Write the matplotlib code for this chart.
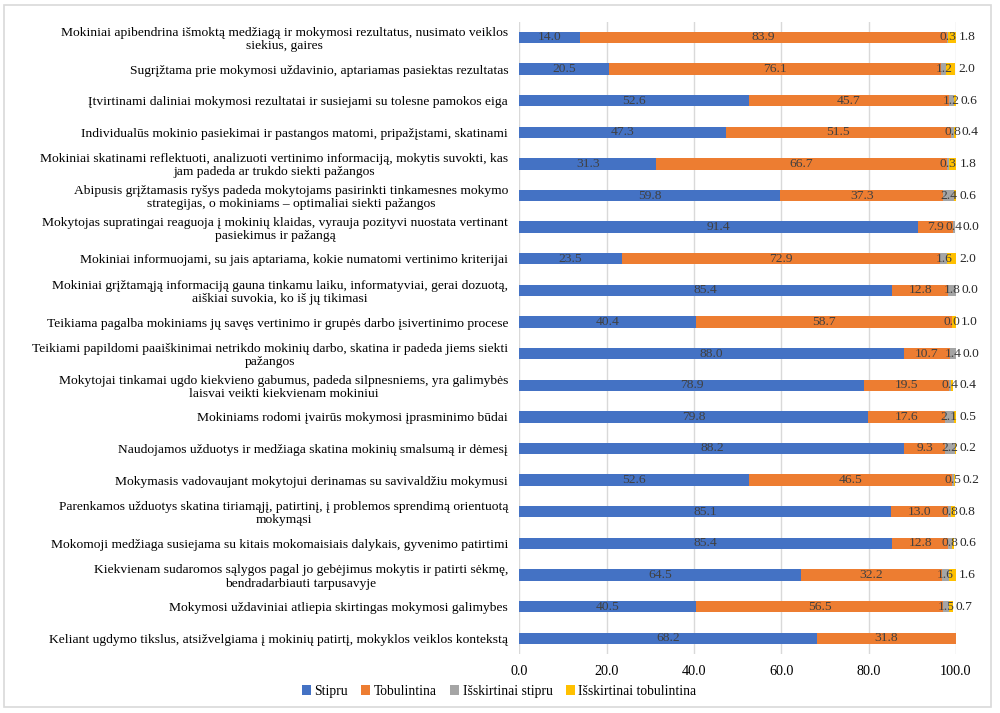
import numpy as np
import matplotlib
matplotlib.use("Agg")
import matplotlib.pyplot as plt
from matplotlib.patches import Rectangle

plt.rcParams['font.family'] = ['Liberation Serif', 'DejaVu Serif']

categories = [
    "Mokiniai apibendrina išmoktą medžiagą ir mokymosi rezultatus, nusimato veiklos\nsiekius, gaires",
    "Sugrįžtama prie mokymosi uždavinio, aptariamas pasiektas rezultatas",
    "Įtvirtinami daliniai mokymosi rezultatai ir susiejami su tolesne pamokos eiga",
    "Individualūs mokinio pasiekimai ir pastangos matomi, pripažįstami, skatinami",
    "Mokiniai skatinami reflektuoti, analizuoti vertinimo informaciją, mokytis suvokti, kas\njam padeda ar trukdo siekti pažangos",
    "Abipusis grįžtamasis ryšys padeda mokytojams pasirinkti tinkamesnes mokymo\nstrategijas, o mokiniams – optimaliai siekti pažangos",
    "Mokytojas supratingai reaguoja į mokinių klaidas, vyrauja pozityvi nuostata vertinant\npasiekimus ir pažangą",
    "Mokiniai informuojami, su jais aptariama, kokie numatomi vertinimo kriterijai",
    "Mokiniai grįžtamąją informaciją gauna tinkamu laiku, informatyviai, gerai dozuotą,\naiškiai suvokia, ko iš jų tikimasi",
    "Teikiama pagalba mokiniams jų savęs vertinimo ir grupės darbo įsivertinimo procese",
    "Teikiami papildomi paaiškinimai netrikdo mokinių darbo, skatina ir padeda jiems siekti\npažangos",
    "Mokytojai tinkamai ugdo kiekvieno gabumus, padeda silpnesniems, yra galimybės\nlaisvai veikti kiekvienam mokiniui",
    "Mokiniams rodomi įvairūs mokymosi įprasminimo būdai",
    "Naudojamos užduotys ir medžiaga skatina mokinių smalsumą ir dėmesį",
    "Mokymasis vadovaujant mokytojui derinamas su savivaldžiu mokymusi",
    "Parenkamos užduotys skatina tiriamąjį, patirtinį, į problemos sprendimą orientuotą\nmokymąsi",
    "Mokomoji medžiaga susiejama su kitais mokomaisiais dalykais, gyvenimo patirtimi",
    "Kiekvienam sudaromos sąlygos pagal jo gebėjimus mokytis ir patirti sėkmę,\nbendradarbiauti tarpusavyje",
    "Mokymosi uždaviniai atliepia skirtingas mokymosi galimybes",
    "Keliant ugdymo tikslus, atsižvelgiama į mokinių patirtį, mokyklos veiklos kontekstą",
]

stipru = [14.0, 20.5, 52.6, 47.3, 31.3, 59.8, 91.4, 23.5, 85.4, 40.4,
          88.0, 78.9, 79.8, 88.2, 52.6, 85.1, 85.4, 64.5, 40.5, 68.2]
tobulintina = [83.9, 76.1, 45.7, 51.5, 66.7, 37.3, 7.9, 72.9, 12.8, 58.7,
               10.7, 19.5, 17.6, 9.3, 46.5, 13.0, 12.8, 32.2, 56.5, 31.8]
isskirtinai_stipru = [0.3, 1.2, 1.2, 0.8, 0.3, 2.4, 0.4, 1.6, 1.8, 0.0,
                      1.4, 0.4, 2.1, 2.2, 0.5, 0.8, 0.8, 1.6, 1.5, np.nan]
isskirtinai_tobulintina = [1.8, 2.0, 0.6, 0.4, 1.8, 0.6, 0.0, 2.0, 0.0, 1.0,
                           0.0, 0.4, 0.5, 0.2, 0.2, 0.8, 0.6, 1.6, 0.7, np.nan]

series = [
    ("Stipru", stipru, "#4472C4"),
    ("Tobulintina", tobulintina, "#ED7D31"),
    ("Išskirtinai stipru", isskirtinai_stipru, "#A5A5A5"),
    ("Išskirtinai tobulintina", isskirtinai_tobulintina, "#FFC000"),
]

fig = plt.figure(figsize=(10, 7.13), dpi=100)
fig.patches.append(Rectangle((0.004, 0.008), 0.987, 0.985, transform=fig.transFigure,
                             fill=False, edgecolor="#D9D9D9", linewidth=1.2))
ax = fig.add_axes([0.5193, 0.0827, 0.4367, 0.887])

y = np.arange(len(categories))
left = np.zeros(len(categories))
gray_mid = np.zeros(len(categories))
fs = 9.7
txt_color = "#404040"
for i, (name, vals, color) in enumerate(series):
    v = np.nan_to_num(np.array(vals, dtype=float))
    ax.barh(y, v, left=left, height=0.36, color=color, label=name, zorder=2)
    for j, val in enumerate(vals):
        if np.isnan(val):
            continue
        if i < 3:
            xc = left[j] + v[j] / 2
            if i == 2:
                gray_mid[j] = xc
            ax.text(xc, y[j], f"{val:.1f}", ha="center", va="center",
                    fontsize=fs, color=txt_color, zorder=3)
        else:
            # yellow labels sit just outside the bar end, right of the gray label
            xl = max(left[j] + v[j] + 0.7, gray_mid[j] + 2.1)
            ax.text(xl, y[j], f"{val:.1f}", ha="left", va="center",
                    fontsize=fs, color="#262626", zorder=3)
    left += v

ax.set_ylim(len(categories) - 0.5, -0.5)
ax.set_xlim(0, 100)
ax.set_xticks(np.arange(0, 101, 20))
ax.set_xticklabels([f"{t:.1f}" for t in np.arange(0, 101, 20)], fontsize=fs + 0.5)
ax.set_yticks(y)
ax.set_yticklabels(categories, fontsize=fs, multialignment="center", linespacing=1.12)
ax.tick_params(axis="both", length=0, pad=8)
ax.grid(axis="x", color="#D9D9D9", linewidth=1, zorder=0)
for s in ax.spines.values():
    s.set_visible(False)

ax.legend(loc="upper center", bbox_to_anchor=(-0.046, -0.04), ncol=4, frameon=False,
          fontsize=fs + 0.1, handlelength=0.65, handleheight=0.65, handletextpad=0.25,
          columnspacing=1.0, borderaxespad=0)

fig.savefig("out.png", dpi=100)
